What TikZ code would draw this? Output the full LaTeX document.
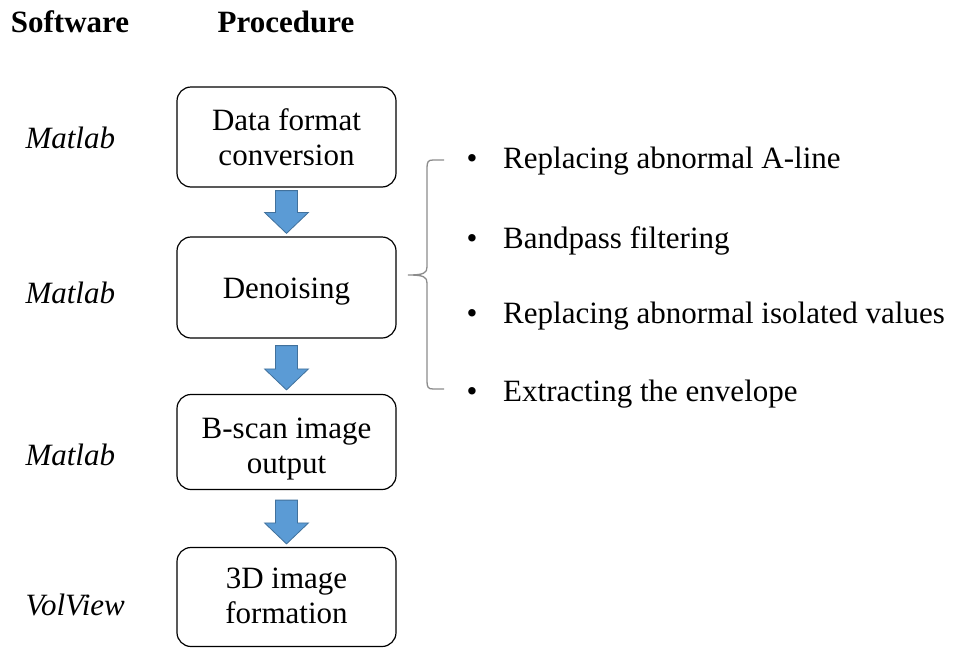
\documentclass[tikz,border=0pt]{standalone}
\usepackage{fontspec}
\setmainfont{Liberation Serif}
\usetikzlibrary{calc}
\definecolor{arrowfill}{HTML}{5B9BD5}
\definecolor{arrowline}{HTML}{41719C}
\definecolor{bracegray}{HTML}{8C8C8C}
% block arrow pointing down from #1 to #2 (same x)
\newcommand{\blockarrowdown}[2]{%
  \draw[flowarrow] let \p1=(#1), \p2=(#2) in
    (\x1-11,\y1) -- (\x1+11,\y1) -- (\x1+11,\y2+21) -- (\x1+22,\y2+21) -- (\x2,\y2)
    -- (\x1-22,\y2+21) -- (\x1-11,\y2+21) -- cycle;}
\begin{document}
\begin{tikzpicture}[x=1pt,y=-1pt,
  every node/.style={font=\fontsize{31}{35}\selectfont},
  stepbox/.style={draw, rounded corners=14pt, line width=1.2pt, minimum width=219pt, inner sep=0pt},
  boxtext/.style={align=center, inner sep=0pt, anchor=base},
  flowarrow/.style={draw=arrowline, fill=arrowfill, line width=0.8pt, line join=miter},
  swlabel/.style={font=\fontsize{31}{35}\selectfont\itshape, anchor=west},
  header/.style={font=\fontsize{31}{35}\selectfont\bfseries},
  item/.style={anchor=base west, inner sep=0pt}
]
\useasboundingbox (0,0) rectangle (953,648);

% column headers
\node[header] (hsw) at (70,22) {Software};
\node[header] (hproc) at (286,22) {Procedure};

% procedure boxes
\node[stepbox, minimum height=100pt] (b1) at (286.5,137) {};
\node[stepbox, minimum height=101pt] (b2) at (286.5,287.5) {};
\node[stepbox, minimum height=95pt] (b3) at (286.5,442) {};
\node[stepbox, minimum height=99pt] (b4) at (286.5,597) {};

% step names, anchored on their last baselines
\node[boxtext] (t1) at (286.5,165) {Data format\\conversion};
\node[boxtext] (t2) at (286.5,298) {Denoising};
\node[boxtext] (t3) at (286.5,473) {B-scan image\\output};
\node[boxtext] (t4) at (286.5,623) {3D image\\formation};

% block arrows between steps
\path (b1.south) ++(0,3) coordinate (a1s);
\path (b2.north) ++(0,-3) coordinate (a1e);
\path (b2.south) ++(0,7) coordinate (a2s);
\path (b3.north) ++(0,-4) coordinate (a2e);
\path (b3.south) ++(0,10) coordinate (a3s);
\path (b4.north) ++(0,-3) coordinate (a3e);
\blockarrowdown{a1s}{a1e}
\blockarrowdown{a2s}{a2e}
\blockarrowdown{a3s}{a3e}

% software used at each step
\node[swlabel] (s1) at (22,138) {Matlab};
\node[swlabel] (s2) at (22,293) {Matlab};
\node[swlabel] (s3) at (22,455) {Matlab};
\node[swlabel] (s4) at (22,605) {VolView};

% brace grouping the denoising sub-steps
\coordinate (btop) at (444,160);
\coordinate (bbot) at (444,389);
\coordinate (btip) at (408,275);
\draw[bracegray, line width=1.3pt]
  (btop) -- (433,160) .. controls (428,160) and (427,162) .. (427,168)
  -- (427,267) .. controls (427,273) and (424,275) .. (btip)
  .. controls (424,275) and (427,277) .. (427,283)
  -- (427,381) .. controls (427,387) and (428,389) .. (433,389) -- (bbot);

% denoising sub-steps
\foreach \y/\t/\n in {168/{Replacing abnormal A-line}/i1, 248/{Bandpass filtering}/i2,
    323/{Replacing abnormal isolated values}/i3, 401/{Extracting the envelope}/i4} {
  \node[anchor=base, inner sep=0pt] (\n b) at (472,\y) {\textbullet};
  \node[item] (\n) at (503,\y) {\t};
}
\end{tikzpicture}
\end{document}
